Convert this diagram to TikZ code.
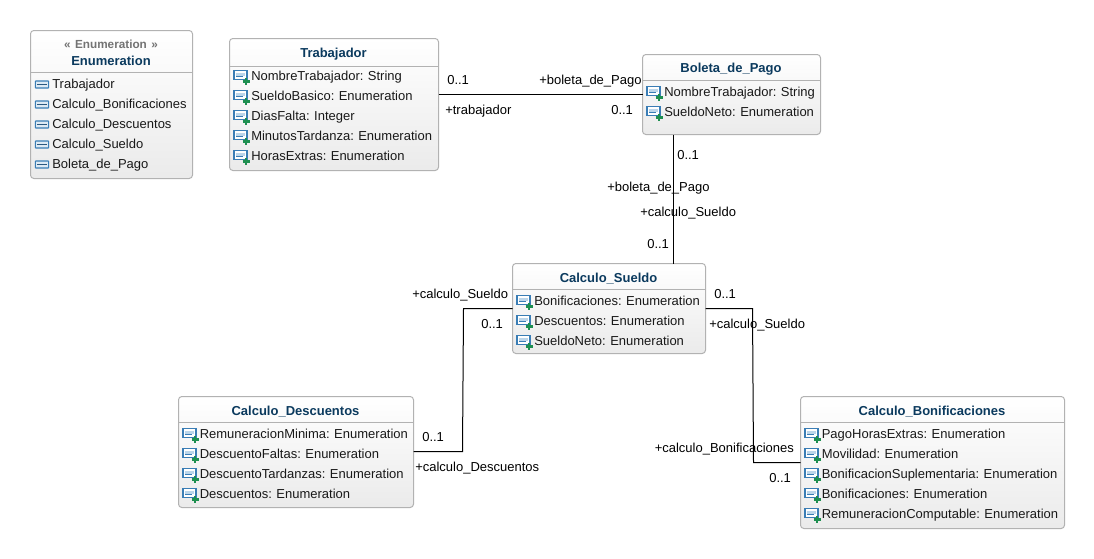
\documentclass[tikz,border=0pt]{standalone}
\usepackage{fontspec}
\setmainfont[WordSpace=0.9]{Liberation Sans}
\usetikzlibrary{ positioning, % For easy node-relative placements
               }
\definecolor{umltitle}{HTML}{0B3A5E}
\definecolor{umlblue}{HTML}{3A7DB5}
\definecolor{umlpale}{HTML}{BCD6EA}
\definecolor{umlgreen}{HTML}{1E8F50}
\tikzstyle{umlbox} = [rectangle, rounded corners=2.5pt, draw=black!30, line width=0.75pt, top color=white, bottom color=black!8, anchor=north west, inner sep=0pt, outer sep=0pt]
\tikzstyle{title} = [font=\bfseries\fontsize{9.75}{12}\selectfont, text=umltitle]
\tikzstyle{stereo} = [font=\bfseries\fontsize{8.8}{11}\selectfont, text=black!55]
\tikzstyle{member} = [anchor=west, inner sep=0pt, yshift=-0.75pt, font=\fontsize{9.75}{12}\selectfont, text=black!90, text height=7.2pt, text depth=2pt]
\tikzstyle{tag} = [member, text=black]
\tikzstyle{divider} = [draw=black!30, line width=0.75pt]
\tikzstyle{assoc} = [draw=black, line width=0.75pt]
\tikzset{
  attricon/.pic = {
    \draw [umlblue, line width=0.8pt, fill=white] (-8,-5.5) rectangle (5,3.5);
    \fill [umlpale] (-6,-3.5) rectangle (3,-0.5);
    \draw [umlblue, line width=0.7pt] (-6,0.8) -- (1,0.8);
    \draw [umlgreen, line width=2.1pt] (0.5,5.5) -- (7.5,5.5) (4,2) -- (4,9);
  },
  liticon/.pic = {
    \draw [umlblue, line width=0.8pt, fill=umlpale!50, rounded corners=0.5pt] (-6.7,-3) rectangle (6.7,4);
    \draw [umlblue!70!black, line width=1pt] (-5,0.5) -- (5,0.5);
  },
}
\begin{document}
\begin{tikzpicture}[x=0.75pt, y=-0.75pt]
  \useasboundingbox (0,0) rectangle (1094,558);

  \node (enum) [umlbox, minimum width=121.5pt, minimum height=111pt] at (30.5,30.5) {};
  \node (trab) [umlbox, minimum width=156.75pt, minimum height=99pt] at (229.5,38.5) {};
  \node (bol) [umlbox, minimum width=133.5pt, minimum height=60pt] at (642.5,54.5) {};
  \node (sue) [umlbox, minimum width=144.75pt, minimum height=67.5pt] at (512.5,263.5) {};
  \node (des) [umlbox, minimum width=176.25pt, minimum height=83.25pt] at (178.5,396.5) {};
  \node (bon) [umlbox, minimum width=198pt, minimum height=99pt] at (800.5,396.5) {};

  % connectors
  \draw [assoc] (trab.east |- 0,94.5) -- (bol.west |- 0,94.5);
  \draw [assoc] (bol.south -| 673.5,0) -- (sue.north -| 673.5,0);
  \draw [assoc] (sue.west |- 0,308.5) -- (463.5,308.5) -- (462.5,451.5) -- (des.east |- 0,451.5);
  \draw [assoc] (sue.east |- 0,308.5) -- (752.5,308.5) -- (753.5,462.5) -- (bon.west |- 0,462.5);

  % headers
  \draw [divider] (enum.west |- 0,72.5) -- (enum.east |- 0,72.5);
  \draw [divider] (trab.west |- 0,66.5) -- (trab.east |- 0,66.5);
  \draw [divider] (bol.west |- 0,80.5) -- (bol.east |- 0,80.5);
  \draw [divider] (sue.west |- 0,289.5) -- (sue.east |- 0,289.5);
  \draw [divider] (des.west |- 0,422.5) -- (des.east |- 0,422.5);
  \draw [divider] (bon.west |- 0,422.5) -- (bon.east |- 0,422.5);

  \node (enumst) [stereo] at (111,44) {«\hspace{1.1pt} Enumeration \hspace{1.1pt}»};
  \node (enumt) [title] at (111,60.5) {Enumeration};
  \node (trabt) [title] at (333.5,54) {Trabajador};
  \node (bolt) [title] at (731,69.5) {Boleta\_de\_Pago};
  \node (suet) [title] at (608.5,278.5) {Calculo\_Sueldo};
  \node (dest) [title] at (295.5,411.5) {Calculo\_Descuentos};
  \node (bont) [title] at (932,411.5) {Calculo\_Bonificaciones};

  % enumeration literals
  \foreach \txt [count=\i from 0] in {Trabajador, Calculo\_Bonificaciones, Calculo\_Descuentos, Calculo\_Sueldo, Boleta\_de\_Pago} {
    \pgfmathsetmacro{\rowy}{84+20*\i}
    \path (42,\rowy) pic {liticon};
    \node (lit\i) [member] at (52,\rowy) {\txt};
  }

  % attributes
  \foreach \txt [count=\i from 0] in {NombreTrabajador: String, SueldoBasico: Enumeration, DiasFalta: Integer, MinutosTardanza: Enumeration, HorasExtras: Enumeration} {
    \pgfmathsetmacro{\rowy}{76+20*\i}
    \path (242,\rowy) pic {attricon};
    \node (trab\i) [member] at (251,\rowy) {\txt};
  }
  \foreach \txt [count=\i from 0] in {NombreTrabajador: String, SueldoNeto: Enumeration} {
    \pgfmathsetmacro{\rowy}{92+20*\i}
    \path (655,\rowy) pic {attricon};
    \node (bol\i) [member] at (664,\rowy) {\txt};
  }
  \foreach \txt [count=\i from 0] in {Bonificaciones: Enumeration, Descuentos: Enumeration, SueldoNeto: Enumeration} {
    \pgfmathsetmacro{\rowy}{301+20*\i}
    \path (525,\rowy) pic {attricon};
    \node (sue\i) [member] at (534,\rowy) {\txt};
  }
  \foreach \txt [count=\i from 0] in {RemuneracionMinima: Enumeration, DescuentoFaltas: Enumeration, DescuentoTardanzas: Enumeration, Descuentos: Enumeration} {
    \pgfmathsetmacro{\rowy}{434+20*\i}
    \path (191,\rowy) pic {attricon};
    \node (des\i) [member] at (199.5,\rowy) {\txt};
  }
  \foreach \txt [count=\i from 0] in {PagoHorasExtras: Enumeration, Movilidad: Enumeration, BonificacionSuplementaria: Enumeration, Bonificaciones: Enumeration, RemuneracionComputable: Enumeration} {
    \pgfmathsetmacro{\rowy}{434+20*\i}
    \path (813,\rowy) pic {attricon};
    \node (bon\i) [member] at (821.5,\rowy) {\txt};
  }

  % association end labels
  \node (t1) [tag] at (447,80) {0..1};
  \node (t2) [tag] at (539,80) {+boleta\_de\_Pago};
  \node (t3) [tag] at (445,110) {+trabajador};
  \node (t4) [tag] at (611,110) {0..1};
  \node (t5) [tag] at (677,155) {0..1};
  \node (t6) [tag] at (607,187) {+boleta\_de\_Pago};
  \node (t7) [tag] at (640,212) {+calculo\_Sueldo};
  \node (t8) [tag] at (647,244) {0..1};
  \node (t9) [tag] at (412,294) {+calculo\_Sueldo};
  \node (t10) [tag] at (481,324) {0..1};
  \node (t11) [tag] at (714,294) {0..1};
  \node (t12) [tag] at (709,324) {+calculo\_Sueldo};
  \node (t13) [tag] at (422,437) {0..1};
  \node (t14) [tag] at (415,467) {+calculo\_Descuentos};
  \node (t15) [tag] at (654.5,448) {+calculo\_Bonificaciones};
  \node (t16) [tag] at (769,478) {0..1};
\end{tikzpicture}
\end{document}
